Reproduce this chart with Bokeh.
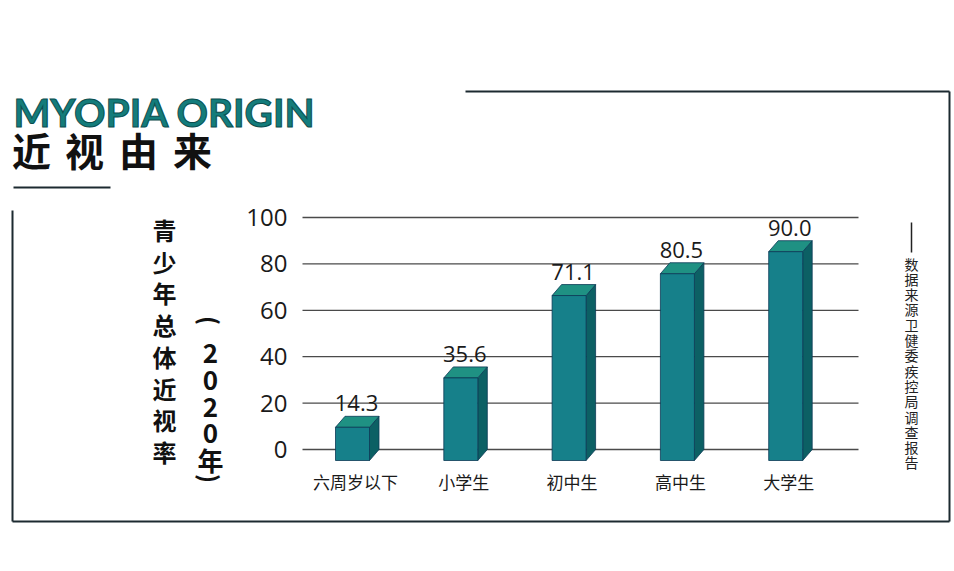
import numpy as np
from bokeh.plotting import figure
from bokeh.models import Range1d
from bokeh.core.properties import value
from bokeh.embed import file_html
from bokeh.resources import INLINE

# ---------------- data ----------------
categories = ["六周岁以下", "小学生", "初中生", "高中生", "大学生"]
rates = [14.3, 35.6, 71.1, 80.5, 90.0]
y_ticks = [0, 20, 40, 60, 80, 100]
y_tick_labels = ["0", "20", "40", "60", "80", "100"]

title_en = "MYOPIA ORIGIN"
title_cn = "近视由来"
y_title = "青少年总体近视率"
y_subtitle = ["2", "0", "2", "0", "年"]
source_note = "数据来源卫健委疾控局调查报告"

# ---------------- layout constants ----------------
OX, OY = 0, 0           # page origin of the figure
W, H = 952, 562
PX_PER_CAT = 108.3      # px per category
CAT0_PX = 352.0         # page x of first bar front center
ZERO_PY = 449.0         # page y of value 0
PX_PER_UNIT = 2.32      # px per percent

x_start = (OX - CAT0_PX) / PX_PER_CAT
x_end = (OX + W - CAT0_PX) / PX_PER_CAT
y_start = (ZERO_PY - (OY + H)) / PX_PER_UNIT
y_end = (ZERO_PY - OY) / PX_PER_UNIT

p = figure(width=W, height=H, output_backend="svg", toolbar_location=None,
           x_range=Range1d(x_start, x_end), y_range=Range1d(y_start, y_end),
           x_axis_location=None, y_axis_location=None, min_border=0)
p.grid.visible = False
p.outline_line_color = None
p.background_fill_color = "white"
p.border_fill_color = "white"
# page-pixel coordinates for decorations
p.extra_x_ranges = {"px": Range1d(OX, OX + W)}
p.extra_y_ranges = {"py": Range1d(OY + H, OY)}

# ---------------- gridlines ----------------
gx0 = (302 - CAT0_PX) / PX_PER_CAT
gx1 = (858 - CAT0_PX) / PX_PER_CAT
p.segment(x0=[gx0] * len(y_ticks), x1=[gx1] * len(y_ticks), y0=y_ticks, y1=y_ticks,
          line_color="#4a4a4a", line_width=1.3)
p.text(x=[gx0] * len(y_ticks), y=y_ticks, text=y_tick_labels, x_offset=-15,
       text_align="right", text_baseline="middle", text_font=value("Open Sans"),
       text_font_size="24px", text_color="#1a1a1a")

# ---------------- 3D bars ----------------
xs = np.arange(len(categories), dtype=float)
v = np.array(rates)
half = 17 / PX_PER_CAT          # half width of front face
dx = 9.5 / PX_PER_CAT           # depth shift right
dy = 11 / PX_PER_UNIT           # depth shift up

front_color = "#16808a"
top_color = "#1f9183"
side_color = "#0c6064"
edge = "#0b3a55"

side_xs = [[x + half, x + half + dx, x + half + dx, x + half] for x in xs]
side_ys = [[-dy, 0, val, val - dy] for val in v]
p.patches(side_xs, side_ys, fill_color=side_color, line_color=edge, line_width=0.8)
top_xs = [[x - half, x + half, x + half + dx, x - half + dx] for x in xs]
top_ys = [[val - dy, val - dy, val, val] for val in v]
p.patches(top_xs, top_ys, fill_color=top_color, line_color=edge, line_width=0.8)
p.quad(left=xs - half, right=xs + half, bottom=-dy, top=v - dy,
       fill_color=front_color, line_color=edge, line_width=0.8)

# value labels
p.text(x=xs, y=v, text=[f"{r:.1f}" for r in rates], x_offset=4, y_offset=-13,
       text_align="center", text_baseline="alphabetic", text_font=value("Open Sans"),
       text_font_size="22px", text_color="#1a1a1a")

# category labels
p.text(x=xs, y=[0] * len(xs), text=categories, x_offset=3, y_offset=32,
       text_align="center", text_baseline="middle",
       text_font=value("Noto Sans CJK SC"), text_font_size="17px", text_color="#1a1a1a")

# ---------------- page decorations (page px) ----------------
kw = dict(x_range_name="px", y_range_name="py")
p.text(x=[13], y=[111], text=[title_en], text_align="left", text_baseline="alphabetic",
       text_font=value("Lato"), text_font_style="bold", text_font_size="39px",
       text_color="#137c7b", text_outline_color="#0a4d4d", **kw)
cn_x = [31, 84, 138, 192]
p.text(x=cn_x, y=[148] * 4, text=list(title_cn), text_align="center",
       text_baseline="middle", text_font=value("Noto Sans CJK SC"),
       text_font_style="bold", text_font_size="39px", text_color="#111111", **kw)

# frame lines
p.segment(x0=[13, 465, 949, 12, 12], x1=[110, 949, 949, 949, 12],
          y0=[187, 91, 91, 521, 210], y1=[187, 91, 521, 521, 521],
          line_color="#1c2a30", line_width=2, **kw)

# vertical y-axis title
yt_y = [213 + 16 + 31.7 * i for i in range(len(y_title))]
p.text(x=[164] * len(y_title), y=yt_y, text=list(y_title), text_align="center",
       text_baseline="middle", text_font=value("Noto Sans CJK SC"),
       text_font_style="bold", text_font_size="24px", text_color="#111111", **kw)
# (2020年) stacked vertically with rotated parentheses
p.text(x=[210, 210], y=[320, 478], text=["(", ")"], angle=-np.pi / 2,
       text_align="center", text_baseline="middle", text_font=value("Noto Sans CJK SC"),
       text_font_style="bold", text_font_size="24px", text_color="#111111", **kw)
sub_y = [353, 380, 407, 433, 459]
p.text(x=[210] * len(y_subtitle), y=sub_y, text=y_subtitle, text_align="center",
       text_baseline="middle", text_font=value("Noto Sans CJK SC"),
       text_font_style="bold", text_font_size="26px", text_color="#111111", **kw)

# source note (vertical)
p.segment(x0=[911], x1=[911], y0=[222], y1=[252], line_color="#222222", line_width=1.5, **kw)
sn_y = [263 + 15.3 * i for i in range(len(source_note))]
p.text(x=[911] * len(source_note), y=sn_y, text=list(source_note), text_align="center",
       text_baseline="middle", text_font=value("Noto Sans CJK SC"),
       text_font_size="14px", text_color="#222222", **kw)

open("out.html", "w").write(file_html(p, INLINE))
